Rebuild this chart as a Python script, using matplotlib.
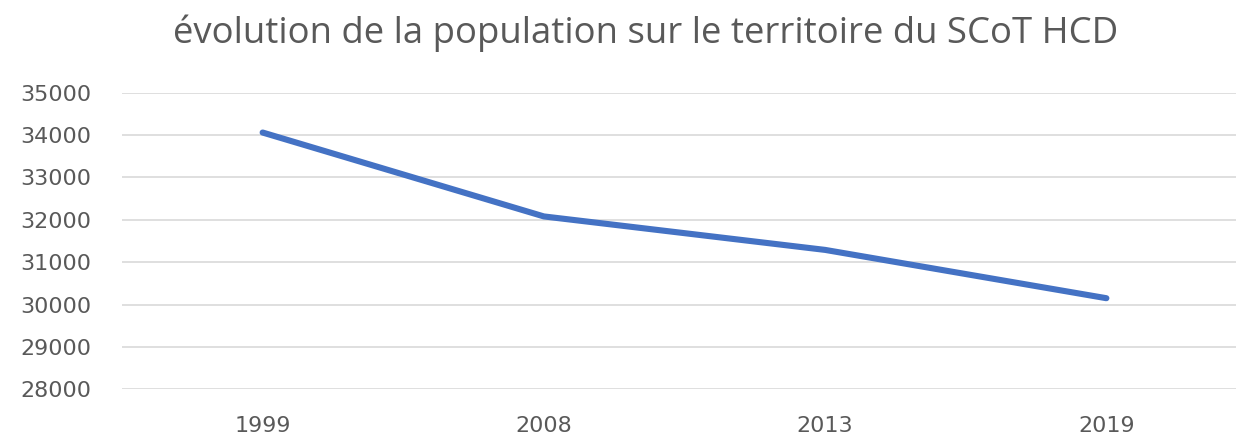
import matplotlib
matplotlib.use("Agg")
import matplotlib.pyplot as plt

years = ["1999", "2008", "2013", "2019"]
population = [34060, 32080, 31290, 30150]
yticks = [28000, 29000, 30000, 31000, 32000, 33000, 34000, 35000]
title = "évolution de la population sur le territoire du SCoT HCD"

W, H = 1236, 437
fig = plt.figure(figsize=(W / 100, H / 100), dpi=100)
left, right = 122, 1247
top, bottom = 92.7, 389.3
ax = fig.add_axes([left / W, (H - bottom) / H, (right - left) / W, (bottom - top) / H])

x = list(range(len(years)))
ax.plot(x, population, color="#4472C4", linewidth=4.4, solid_capstyle="round",
        solid_joinstyle="round", zorder=3)
ax.set_xlim(-0.5, len(years) - 0.5)
ax.set_ylim(28000, 35000)
ax.set_yticks(yticks)
ax.set_yticklabels([str(v) for v in yticks])
ax.set_xticks(x)
ax.set_xticklabels(years)
ax.grid(axis="y", color="#d9d9d9", linewidth=1.2)
ax.set_axisbelow(True)
for s in ax.spines.values():
    s.set_visible(False)
ax.tick_params(axis="both", length=0, labelsize=16, labelcolor="#595959")
ax.tick_params(axis="y", pad=22)
ax.tick_params(axis="x", pad=19)
for lab in ax.get_xticklabels() + ax.get_yticklabels():
    lab.set_fontfamily("DejaVu Sans")

fig.text(646 / W, 1 - 33 / H, title, ha="center", va="center",
         fontsize=26.3, color="#595959", family="Open Sans")

fig.savefig("out.png", dpi=100)
